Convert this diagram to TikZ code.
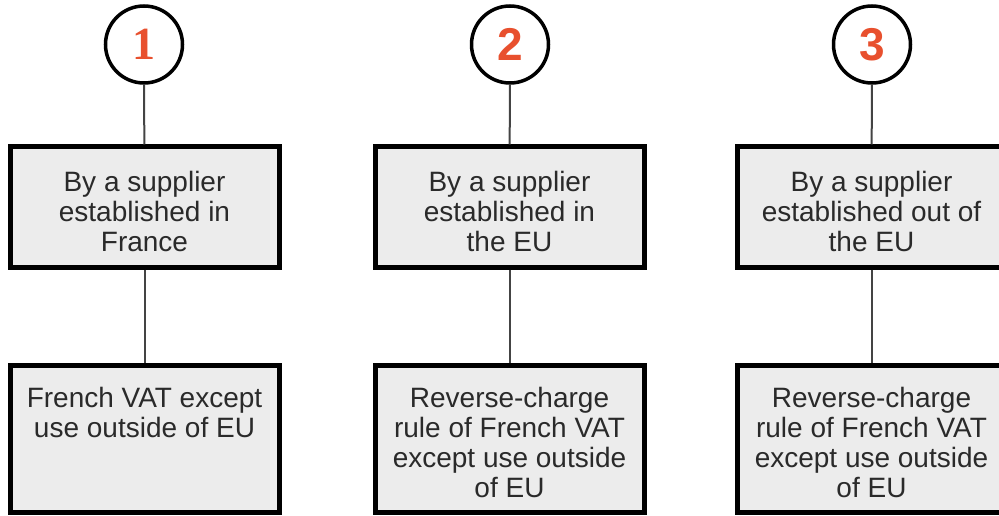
\documentclass[tikz,border=0pt]{standalone}
\usepackage{fontspec}
\setmainfont{Liberation Sans}
\newfontfamily\numserif{Liberation Serif}
\definecolor{boxfill}{HTML}{ECECEC}
\definecolor{numred}{HTML}{E8502E}
\definecolor{txt}{HTML}{2A2A2A}
\definecolor{conn}{HTML}{444444}
\newcommand{\topbox}[1]{\parbox[c][120pt][t]{262pt}{\centering\rule{0pt}{44pt}#1}}
\newcommand{\lowbox}[1]{\parbox[c][147pt][t]{262pt}{\centering\rule{0pt}{42pt}#1}}
\begin{document}
\begin{tikzpicture}[x=1pt,y=-1pt,
  numcircle/.style={draw=black,circle,line width=3.5pt,fill=white,minimum size=77pt,inner sep=0pt,text=numred,font=\fontsize{46}{46}\selectfont\bfseries},
  infobox/.style={draw=black,line width=5pt,fill=boxfill,inner sep=0pt,text=txt,font=\fontsize{28}{30}\selectfont,minimum width=269pt},
  topb/.style={infobox,minimum height=120pt},
  lowb/.style={infobox,minimum height=147pt},
  link/.style={draw=conn,line width=2pt}]
\useasboundingbox (0,0) rectangle (999,516);
\clip (0,0) rectangle (999,516);
% column 1
\node[numcircle] (c1) at (144,44.5) {\numserif\bfseries 1};
\node[topb] (t1) at (144.5,207) {\topbox{By a supplier\\established in\\France}};
\node[lowb] (l1) at (144.5,438.5) {\lowbox{French VAT except\\use outside of EU}};
% column 2
\node[numcircle] (c2) at (510,44.5) {2};
\node[topb] (t2) at (509.5,207) {\topbox{By a supplier\\established in\\the EU}};
\node[lowb] (l2) at (509.5,438.5) {\lowbox{Reverse-charge\\rule of French VAT\\except use outside\\of EU}};
% column 3
\node[numcircle] (c3) at (872,44.5) {3};
\node[topb] (t3) at (871.5,207) {\topbox{By a supplier\\established out of\\the EU}};
\node[lowb] (l3) at (871.5,438.5) {\lowbox{Reverse-charge\\rule of French VAT\\except use outside\\of EU}};
% connectors
\draw[link] (c1) -- (t1);
\draw[link] (t1) -- (l1);
\draw[link] (c2) -- (t2);
\draw[link] (t2) -- (l2);
\draw[link] (c3) -- (t3);
\draw[link] (t3) -- (l3);
\end{tikzpicture}
\end{document}
